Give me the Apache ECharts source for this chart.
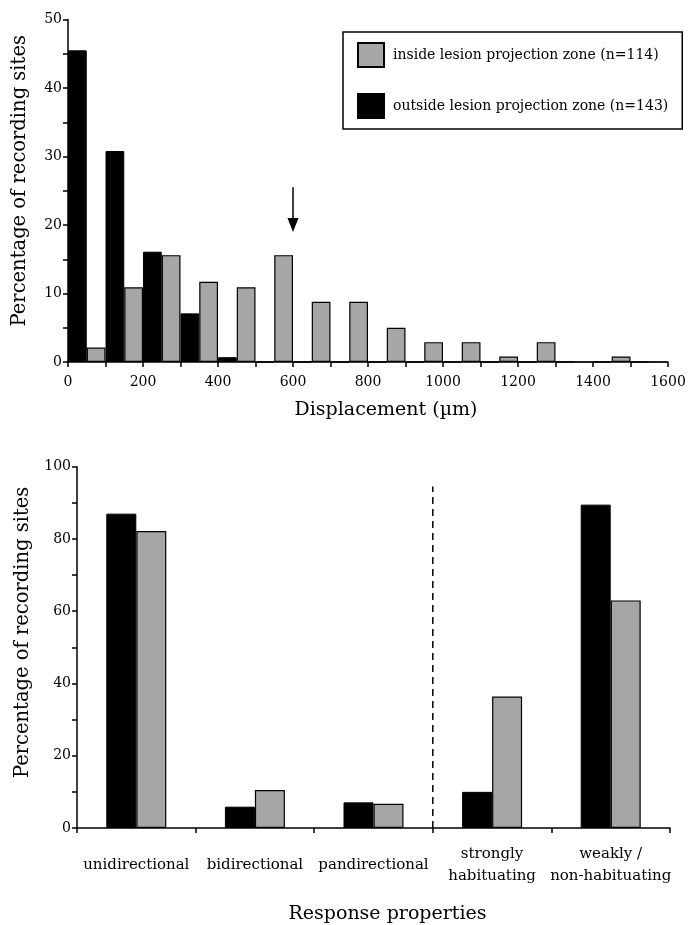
<!DOCTYPE html>
<html>
<head>
<meta charset="utf-8">
<script src="https://cdn.jsdelivr.net/npm/echarts@6/dist/echarts.min.js"></script>
<style>
html,body{margin:0;padding:0;background:#fff;}
#chart{width:698px;height:925px;}
</style>
</head>
<body>
<div id="chart"></div>
<script>
// ---- Top histogram data (100 µm bins) ----
const binStarts = [0,100,200,300,400,500,600,700,800,900,1000,1100,1200,1300,1400,1500];
const outsideValues = [45.5,30.8,16.1,7.1,0.7,0,0,0,0,0,0,0,0,0,0,0];
const insideValues  = [2.1,10.9,15.6,11.7,10.9,15.6,8.8,8.8,5.0,2.9,2.9,0.8,2.9,0,0.8,0];
const displacementTicks = [0,200,400,600,800,1000,1200,1400,1600];
const arrowAt = 600;

// ---- Bottom chart data ----
const responseCategories = ['unidirectional','bidirectional','pandirectional','strongly\nhabituating','weakly /\nnon-habituating'];
const outsideResponse = [87.0,5.9,7.1,10.0,89.5];
const insideResponse  = [82.2,10.5,6.7,36.4,63.0];
const dividerAfter = 3;

const insideName = 'inside lesion projection zone (n=114)';
const outsideName = 'outside lesion projection zone (n=143)';

const FONT = 'DejaVu Serif';
const GRAY = '#a6a6a6';

const chart = echarts.init(document.getElementById('chart'), null, {renderer:'canvas'});

const axisLine = {show:true, lineStyle:{color:'#000', width:1.5}};
const axisTick = {show:true, length:5, inside:false, lineStyle:{color:'#000', width:1.5}};

const option = {
  backgroundColor:'#fff',
  animation:false,
  textStyle:{fontFamily:FONT, color:'#000'},
  legend:{
    orient:'vertical',
    left:343, top:32,
    padding:[10,14,10,14],
    borderColor:'#000', borderWidth:1.5,
    itemWidth:26, itemHeight:24, itemGap:25,
    icon:'rect',
    data:[insideName, outsideName],
    textStyle:{fontFamily:FONT, fontSize:14, color:'#000', padding:[0,0,0,4]}
  },
  grid:[
    {left:68, right:30, top:19.5, bottom:563, containLabel:false},
    {left:77, right:28, top:466.7, bottom:92.3, containLabel:false}
  ],
  xAxis:[
    {gridIndex:0, type:'value', min:0, max:1600, interval:100,
     axisLine:axisLine, axisTick:axisTick, splitLine:{show:false},
     axisLabel:{fontFamily:FONT, fontSize:14, color:'#000', margin:13,
       formatter:v=>displacementTicks.indexOf(v)>=0 ? String(v) : ''},
     name:'Displacement (µm)', nameLocation:'middle', nameGap:39,
     nameTextStyle:{fontFamily:FONT, fontSize:19, color:'#000', padding:[0,0,0,36]}},
    {gridIndex:0, type:'category', data:binStarts.map(String), boundaryGap:true, show:false},
    {gridIndex:1, type:'category', data:responseCategories, boundaryGap:true,
     axisLine:axisLine, axisTick:Object.assign({}, axisTick, {interval:0}),
     axisLabel:{fontFamily:FONT, fontSize:15, color:'#000', interval:0,
       margin:37, verticalAlign:'middle', lineHeight:22},
     name:'Response properties', nameLocation:'middle', nameGap:77,
     nameTextStyle:{fontFamily:FONT, fontSize:19, color:'#000', padding:[0,0,0,28]}},
    {gridIndex:1, type:'value', min:0, max:responseCategories.length, show:false}
  ],
  yAxis:[
    {gridIndex:0, type:'value', min:0, max:50, interval:5,
     axisLine:axisLine, axisTick:axisTick, splitLine:{show:false},
     axisLabel:{fontFamily:FONT, fontSize:14, color:'#000', margin:6,
       formatter:v=>v%10===0 ? String(v) : ''},
     name:'Percentage of recording sites', nameLocation:'middle', nameGap:38,
     nameTextStyle:{fontFamily:FONT, fontSize:19.5, color:'#000', padding:[0,0,0,20]}},
    {gridIndex:1, type:'value', min:0, max:100, interval:10,
     axisLine:axisLine, axisTick:axisTick, splitLine:{show:false},
     axisLabel:{fontFamily:FONT, fontSize:14, color:'#000', margin:6,
       formatter:v=>v%20===0 ? String(v) : ''},
     name:'Percentage of recording sites', nameLocation:'middle', nameGap:43,
     nameTextStyle:{fontFamily:FONT, fontSize:19.5, color:'#000', padding:[0,0,0,30]}}
  ],
  series:[
    {name:outsideName, type:'bar', xAxisIndex:1, yAxisIndex:0, data:outsideValues,
     barGap:'0%', barCategoryGap:'0%',
     itemStyle:{color:'#000', borderColor:'#000', borderWidth:1}},
    {name:insideName, type:'bar', xAxisIndex:1, yAxisIndex:0, data:insideValues,
     barGap:'0%', barCategoryGap:'0%',
     itemStyle:{color:GRAY, borderColor:'#000', borderWidth:1.2}},
    {type:'line', xAxisIndex:0, yAxisIndex:0, data:[], silent:true,
     markLine:{silent:true, symbol:['none','triangle'], symbolSize:[11,14],
       label:{show:false},
       lineStyle:{color:'#000', width:1.5, type:'solid'},
       data:[[{coord:[arrowAt,25.5]},{coord:[arrowAt,20]}]]}},
    {name:outsideName, type:'bar', xAxisIndex:2, yAxisIndex:1, data:outsideResponse,
     barGap:'0%', barWidth:30,
     itemStyle:{color:'#000', borderColor:'#000', borderWidth:1}},
    {name:insideName, type:'bar', xAxisIndex:2, yAxisIndex:1, data:insideResponse,
     barGap:'0%', barWidth:30,
     itemStyle:{color:GRAY, borderColor:'#000', borderWidth:1.2}},
    {type:'line', xAxisIndex:3, yAxisIndex:1, silent:true, symbol:'none',
     data:[[dividerAfter,0],[dividerAfter,94.5]],
     lineStyle:{color:'#000', width:1.5, type:[7,5]}}
  ]
};
chart.setOption(option);
</script>
</body>
</html>
